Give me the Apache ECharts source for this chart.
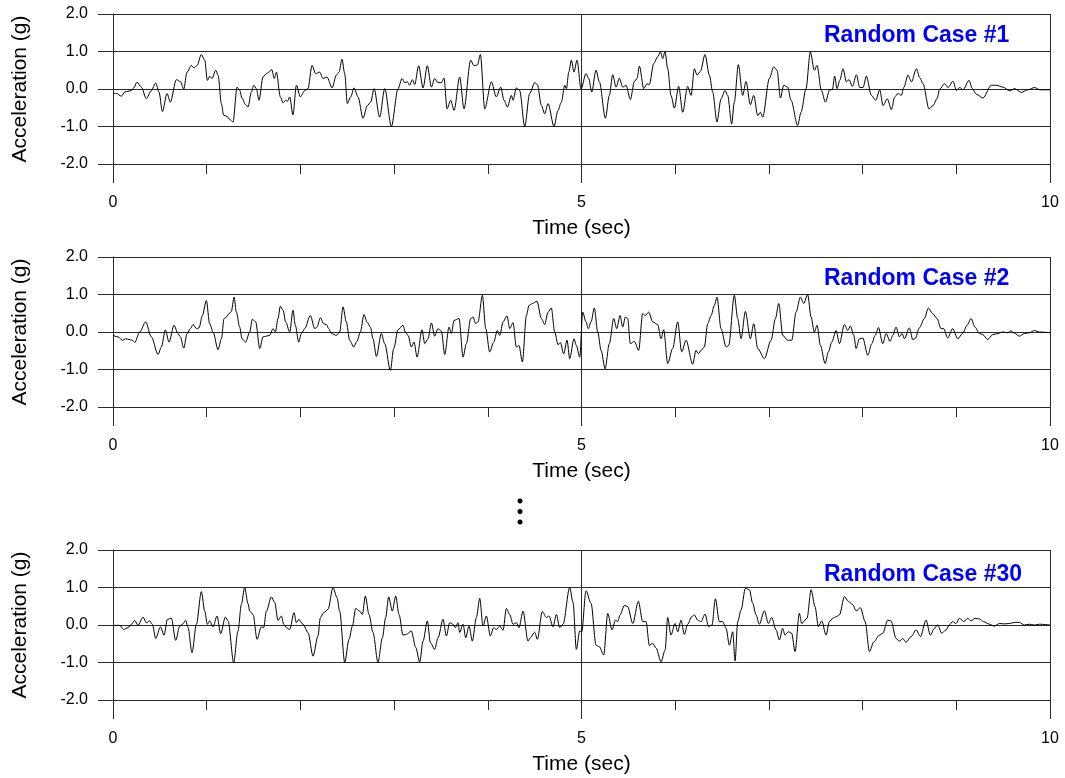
<!DOCTYPE html>
<html>
<head>
<meta charset="utf-8">
<title>Random Case acceleration histories</title>
<script src="https://cdn.jsdelivr.net/npm/echarts@6/dist/echarts.min.js"></script>
<style>
  html, body { margin: 0; padding: 0; background: #fff; }
  #chart { width: 1065px; height: 778px; }
</style>
</head>
<body>
<div id="chart"></div>
<script>
// Time (sec) and acceleration (g) samples for each random case
const case1Time = [
  0.000,0.036,0.089,0.125,0.160,0.196,0.221,0.256,0.303,0.356,0.409,0.456,0.491,0.527,0.577,0.612,
  0.676,0.719,0.755,0.790,0.836,0.865,0.897,0.943,0.979,1.007,1.032,1.057,1.096,1.121,1.157,1.181,
  1.217,1.245,1.281,1.324,1.352,1.377,1.416,1.441,1.477,1.502,1.530,1.558,1.601,1.637,1.665,1.694,
  1.722,1.744,1.786,1.815,1.843,1.861,1.886,1.921,1.957,2.000,2.046,2.081,2.124,2.163,2.206,2.241,
  2.284,2.338,2.384,2.412,2.444,2.473,2.501,2.537,2.572,2.615,2.668,2.715,2.750,2.786,2.846,2.900,
  2.971,3.042,3.085,3.113,3.142,3.166,3.195,3.220,3.262,3.309,3.355,3.398,3.433,3.469,3.504,3.533,
  3.565,3.604,3.640,3.700,3.746,3.817,3.853,3.889,3.921,3.967,4.038,4.091,4.138,4.173,4.209,4.252,
  4.269,4.305,4.340,4.394,4.447,4.501,4.529,4.572,4.607,4.643,4.707,4.749,4.785,4.821,4.839,4.864,
  4.892,4.920,4.952,4.995,5.048,5.077,5.109,5.155,5.191,5.255,5.297,5.333,5.369,5.404,5.440,5.475,
  5.522,5.564,5.593,5.618,5.664,5.699,5.724,5.771,5.813,5.842,5.867,5.891,5.920,5.955,5.991,6.037,
  6.080,6.133,6.169,6.205,6.233,6.269,6.318,6.365,6.400,6.446,6.489,6.532,6.560,6.603,6.631,6.674,
  6.720,6.756,6.802,6.838,6.881,6.909,6.934,7.005,7.051,7.087,7.123,7.158,7.201,7.236,7.307,7.343,
  7.396,7.442,7.485,7.514,7.560,7.603,7.649,7.677,7.702,7.727,7.756,7.791,7.827,7.855,7.891,7.934,
  7.969,8.005,8.040,8.094,8.140,8.183,8.218,8.264,8.307,8.343,8.378,8.414,8.439,8.485,8.521,8.574,
  8.610,8.645,8.709,8.752,8.794,8.823,8.876,8.912,8.965,9.001,9.036,9.072,9.136,9.171,9.214,9.285,
  9.374,9.428,9.499,9.570,9.623,9.694,9.765,9.836,9.890,10.000
];
const case1Accel = [
  -0.11,-0.12,-0.19,-0.08,-0.06,-0.04,0.03,0.18,0.05,-0.26,-0.04,0.16,-0.08,-0.60,-0.12,-0.35,
  0.25,0.20,0.00,0.45,0.63,0.56,0.63,0.92,0.77,0.23,0.34,0.28,0.50,0.37,-0.39,-0.70,
  -0.73,-0.81,-0.88,0.05,-0.03,-0.25,-0.42,-0.48,-0.08,0.10,0.01,-0.30,0.32,0.41,0.45,0.52,
  0.28,0.45,-0.21,-0.37,-0.30,-0.33,-0.21,-0.69,0.10,-0.21,-0.04,0.01,0.63,0.41,0.45,0.28,
  0.32,0.03,0.37,0.45,0.79,0.41,-0.39,-0.21,0.03,-0.21,-0.78,-0.44,-0.35,0.01,-0.75,0.01,
  -1.00,0.01,0.28,0.17,0.19,0.10,0.25,0.12,0.62,0.03,0.62,0.05,0.28,0.17,0.17,0.29,
  -0.53,-0.30,-0.57,0.32,-0.53,0.77,0.62,0.64,0.92,-0.53,0.19,-0.21,0.05,-0.30,-0.48,-0.17,
  -0.30,0.03,-0.04,-1.00,-0.12,0.17,0.12,-0.44,-0.66,-0.39,-1.00,-0.57,-0.35,0.10,0.01,0.45,
  0.77,0.45,0.77,0.00,0.41,0.28,-0.08,0.50,0.19,-0.78,-0.17,0.38,0.05,0.29,0.05,0.10,
  -0.28,0.20,0.28,0.61,0.01,0.14,0.12,0.68,0.86,0.99,0.81,1.00,0.54,-0.17,-0.51,0.07,
  -0.62,0.07,-0.17,0.54,0.37,0.47,0.92,0.37,-0.08,-0.88,-0.26,-0.04,-0.17,-0.93,-0.35,0.65,
  -0.17,0.20,-0.42,-0.17,-0.71,-0.62,-0.75,0.28,0.59,0.50,-0.24,0.10,0.05,-0.30,-0.97,-0.62,
  0.01,0.99,0.50,0.63,-0.04,-0.35,-0.02,-0.02,0.34,0.01,0.23,0.54,0.19,0.25,0.07,0.38,
  0.04,0.04,0.34,-0.17,-0.30,-0.02,-0.44,-0.26,-0.55,-0.21,-0.12,-0.17,0.04,0.37,0.19,0.54,
  0.30,0.14,-0.53,-0.44,-0.26,0.00,0.14,0.04,0.21,-0.04,0.04,-0.02,0.23,0.01,-0.14,-0.24,
  0.10,0.10,0.05,-0.05,0.01,-0.09,-0.02,0.04,-0.02,-0.02
];

const case2Time = [
  0.000,0.054,0.100,0.136,0.171,0.207,0.232,0.285,0.349,0.409,0.481,0.516,0.559,0.598,0.651,0.694,
  0.719,0.755,0.790,0.826,0.854,0.890,0.918,0.954,0.996,1.032,1.068,1.121,1.157,1.185,1.210,1.238,
  1.263,1.292,1.317,1.352,1.377,1.416,1.459,1.487,1.523,1.566,1.601,1.637,1.672,1.708,1.733,1.761,
  1.786,1.815,1.843,1.886,1.921,1.946,1.982,2.010,2.046,2.106,2.153,2.177,2.213,2.249,2.277,2.302,
  2.330,2.384,2.419,2.455,2.490,2.526,2.569,2.604,2.640,2.679,2.711,2.747,2.775,2.811,2.864,2.900,
  2.960,2.996,3.042,3.095,3.120,3.149,3.184,3.213,3.245,3.298,3.327,3.362,3.398,3.433,3.469,3.505,
  3.540,3.586,3.611,3.640,3.693,3.736,3.771,3.818,3.842,3.871,3.896,3.942,3.978,4.020,4.063,4.102,
  4.127,4.163,4.205,4.234,4.269,4.305,4.333,4.369,4.412,4.440,4.476,4.525,4.572,4.607,4.643,4.678,
  4.714,4.750,4.774,4.810,4.846,4.874,4.920,4.945,4.981,5.013,5.048,5.073,5.102,5.137,5.173,5.209,
  5.252,5.297,5.344,5.376,5.411,5.440,5.468,5.493,5.521,5.564,5.610,5.653,5.681,5.717,5.760,5.813,
  5.849,5.877,5.920,5.973,6.027,6.069,6.116,6.187,6.222,6.247,6.276,6.311,6.347,6.383,6.418,6.446,
  6.489,6.543,6.571,6.631,6.667,6.703,6.749,6.802,6.838,6.881,6.952,7.023,7.070,7.105,7.148,7.201,
  7.244,7.290,7.336,7.372,7.414,7.450,7.485,7.514,7.550,7.600,7.635,7.671,7.717,7.753,7.806,7.842,
  7.870,7.906,7.931,7.966,8.002,8.055,8.098,8.134,8.169,8.215,8.251,8.293,8.322,8.357,8.393,8.421,
  8.446,8.499,8.535,8.560,8.606,8.659,8.702,8.748,8.794,8.837,8.865,8.908,8.961,9.015,9.068,9.115,
  9.157,9.200,9.246,9.282,9.335,9.389,9.442,9.495,9.549,9.584,9.620,9.673,9.727,9.780,9.833,9.887,
  10.000
];
const case2Accel = [
  -0.09,-0.13,-0.22,-0.18,-0.20,-0.22,-0.28,0.00,0.27,-0.13,-0.60,-0.40,0.06,-0.27,0.18,-0.04,
  -0.13,-0.43,-0.04,0.09,0.20,0.09,0.11,0.44,0.84,0.22,0.00,-0.47,-0.18,0.36,0.40,0.49,
  0.55,0.93,0.53,0.13,-0.18,-0.27,0.00,0.34,0.27,-0.44,-0.13,-0.11,-0.09,0.09,0.00,0.36,
  0.69,0.58,0.27,0.00,0.58,0.18,-0.27,-0.04,0.09,0.44,0.09,0.13,0.38,0.22,0.20,0.09,
  -0.04,-0.09,0.00,0.67,0.27,-0.22,-0.40,-0.25,0.00,0.47,0.27,0.13,-0.18,-0.65,-0.04,-0.31,
  -1.02,-0.44,0.06,0.18,0.00,-0.09,-0.40,-0.27,-0.67,0.06,-0.31,-0.18,0.24,-0.11,0.09,0.02,
  -0.60,0.13,-0.04,0.31,0.36,-0.67,-0.31,0.36,0.40,0.22,0.27,0.98,0.09,-0.53,-0.27,0.04,
  -0.09,0.27,0.43,0.09,0.25,-0.40,-0.36,-0.80,0.44,0.71,0.76,0.82,0.36,0.20,0.53,0.64,
  0.00,-0.34,-0.28,-0.58,-0.22,-0.71,-0.18,-0.36,-0.67,0.53,0.27,0.09,0.27,0.64,0.00,-0.49,
  -0.98,-0.31,0.36,0.09,0.44,0.13,0.40,0.36,-0.31,-0.25,-0.49,0.49,0.44,0.53,0.27,0.20,
  -0.18,0.06,-0.84,-0.44,0.27,-0.53,-0.22,-0.86,-0.49,-0.58,-0.49,-0.40,0.22,0.44,0.71,0.93,
  0.09,-0.40,-0.36,0.98,0.36,-0.18,0.55,-0.18,0.22,-0.44,-0.71,-0.22,0.36,0.76,-0.09,-0.22,
  -0.22,0.53,0.93,0.76,1.00,0.40,0.00,0.18,-0.36,-0.84,-0.53,-0.27,0.04,-0.31,0.20,0.04,
  0.16,-0.09,-0.44,-0.18,-0.16,-0.62,-0.31,-0.09,0.12,-0.31,-0.04,-0.25,-0.09,0.13,-0.13,-0.04,
  -0.18,0.11,-0.20,-0.18,0.11,0.36,0.64,0.49,0.36,0.09,0.09,-0.16,0.09,-0.18,-0.04,0.18,
  0.36,0.13,-0.04,-0.07,-0.20,-0.07,-0.04,0.00,-0.02,0.03,-0.03,-0.11,-0.04,-0.02,0.04,0.00,
  -0.02
];

const case30Time = [
  0.000,0.072,0.114,0.160,0.196,0.232,0.267,0.321,0.356,0.392,0.420,0.456,0.506,0.545,0.580,0.623,
  0.669,0.712,0.740,0.776,0.801,0.843,0.890,0.943,0.979,1.007,1.032,1.068,1.110,1.149,1.199,1.228,
  1.288,1.334,1.370,1.405,1.441,1.459,1.495,1.537,1.583,1.608,1.637,1.690,1.726,1.761,1.797,1.822,
  1.850,1.886,1.932,1.957,1.982,2.028,2.081,2.135,2.188,2.213,2.249,2.295,2.348,2.391,2.419,2.473,
  2.519,2.555,2.590,2.633,2.661,2.693,2.732,2.775,2.828,2.875,2.910,2.942,2.981,3.017,3.053,3.095,
  3.131,3.184,3.231,3.273,3.309,3.355,3.387,3.433,3.469,3.522,3.558,3.593,3.629,3.654,3.682,3.700,
  3.736,3.764,3.800,3.835,3.878,3.914,3.949,3.985,4.027,4.063,4.091,4.127,4.163,4.198,4.234,4.269,
  4.305,4.333,4.376,4.429,4.454,4.500,4.529,4.582,4.625,4.653,4.696,4.732,4.767,4.803,4.874,4.910,
  4.945,4.981,5.002,5.048,5.102,5.155,5.191,5.237,5.280,5.326,5.362,5.387,5.411,5.458,5.493,5.547,
  5.607,5.653,5.689,5.724,5.760,5.795,5.849,5.892,5.920,5.955,5.998,6.027,6.062,6.098,6.133,6.176,
  6.204,6.240,6.276,6.318,6.357,6.393,6.429,6.471,6.507,6.543,6.578,6.614,6.639,6.667,6.703,6.749,
  6.792,6.827,6.863,6.898,6.952,6.994,7.030,7.076,7.112,7.147,7.172,7.208,7.243,7.279,7.325,7.350,
  7.407,7.450,7.492,7.528,7.564,7.610,7.646,7.681,7.717,7.753,7.806,7.849,7.895,7.931,7.977,8.027,
  8.073,8.119,8.180,8.215,8.268,8.304,8.357,8.393,8.428,8.464,8.517,8.571,8.617,8.677,8.723,8.766,
  8.801,8.844,8.890,8.926,8.961,8.997,9.033,9.079,9.122,9.157,9.200,9.246,9.292,9.353,9.406,9.460,
  9.513,9.567,9.620,9.673,9.727,9.780,9.833,9.887,10.000
];
const case30Accel = [
  -0.01,-0.01,-0.12,-0.07,0.02,0.12,-0.01,0.21,0.06,0.11,0.02,-0.36,-0.05,-0.27,0.15,0.18,
  -0.41,-0.03,0.02,0.12,-0.07,-0.74,0.02,0.89,0.37,0.02,0.11,-0.05,0.24,-0.23,0.21,0.11,
  -1.00,-0.16,0.55,1.00,0.57,0.37,0.28,-0.38,-0.05,-0.07,0.37,0.75,0.60,0.12,0.24,0.02,
  -0.07,-0.12,0.33,0.06,0.15,0.02,-0.20,-0.83,-0.29,0.20,0.33,0.42,1.00,0.73,0.37,-1.00,
  -0.38,-0.03,0.44,0.37,0.28,0.77,0.28,-0.20,-1.00,-0.34,0.20,0.75,0.37,0.77,0.28,-0.27,
  -0.25,-0.16,-0.60,-0.99,-0.43,0.11,-0.47,-0.65,-0.34,0.15,-0.29,0.06,0.02,-0.07,0.06,-0.20,
  0.02,-0.34,-0.03,-0.43,0.20,0.71,-0.03,0.24,-0.29,-0.07,-0.12,-0.03,-0.14,0.44,0.28,0.02,
  0.06,-0.07,0.37,-0.43,-0.34,-0.19,-0.38,0.36,0.20,0.24,-0.05,0.28,-0.07,0.02,1.00,0.60,
  -0.65,-0.16,-0.18,0.91,0.58,-0.54,-0.58,-0.80,0.31,-0.13,0.13,0.09,0.27,0.52,0.49,0.04,
  0.63,0.09,0.09,-0.54,-0.49,-0.61,-0.98,-0.67,0.20,-0.27,0.04,-0.18,0.13,-0.25,0.02,0.22,
  0.27,0.13,0.09,0.29,-0.04,0.00,0.70,0.09,0.09,-0.09,-0.54,-0.18,-0.96,0.09,0.40,0.98,
  0.94,0.58,0.27,0.02,0.38,0.04,0.20,-0.13,-0.40,-0.09,-0.27,-0.18,-0.22,-0.71,0.31,0.04,
  0.18,0.94,0.49,-0.04,0.11,-0.27,0.09,0.18,0.22,0.27,0.76,0.63,0.54,0.38,0.46,0.09,
  -0.71,-0.45,-0.27,-0.22,0.13,0.11,-0.36,-0.43,-0.36,-0.46,-0.31,-0.13,-0.31,0.13,-0.27,-0.09,
  0.00,-0.22,-0.13,0.00,0.09,0.04,0.18,0.09,0.18,0.11,0.18,0.16,0.09,0.02,-0.03,0.04,
  0.03,0.04,0.07,0.07,0.00,0.02,0.00,0.02,0.00
];

const caseLabels = ['Random Case #1', 'Random Case #2', 'Random Case #30'];
const yTickLabels = ['-2.0', '-1.0', '0.0', '1.0', '2.0'];

const FONT = 'Arial, "Liberation Sans", sans-serif';
const LINE = '#2a2a2a';

const panels = [
  { time: case1Time, accel: case1Accel, top: 14, titleTop: 24 },
  { time: case2Time, accel: case2Accel, top: 257, titleTop: 267 },
  { time: case30Time, accel: case30Accel, top: 550, titleTop: 563 }
];

function pairs(t, v) {
  return t.map((x, i) => [x, v[i]]);
}

const chart = echarts.init(document.getElementById('chart'), null, { renderer: 'canvas' });

const option = {
  animation: false,
  backgroundColor: '#fff',
  textStyle: { fontFamily: FONT },
  title: panels.map((p, i) => ({
    text: caseLabels[i],
    left: 824,
    top: p.titleTop,
    padding: 0,
    textStyle: { color: '#0000ff', fontSize: 23, fontWeight: 'bold', fontFamily: FONT }
  })),
  grid: panels.map(p => ({ left: 113, top: p.top, width: 937, height: 150, containLabel: false })),
  xAxis: panels.map((p, i) => ({
    type: 'value',
    gridIndex: i,
    min: 0,
    max: 10,
    interval: 5,
    axisLine: { show: true, onZero: false, lineStyle: { color: LINE, width: 1 } },
    axisTick: { show: true, length: 19, lineStyle: { color: LINE, width: 1 } },
    minorTick: { show: true, splitNumber: 5, length: 10, lineStyle: { color: LINE, width: 1 } },
    splitLine: { show: true, lineStyle: { color: LINE, width: 1 } },
    axisLabel: { margin: 31, fontSize: 16, color: '#000', fontFamily: FONT },
    name: 'Time (sec)',
    nameLocation: 'middle',
    nameGap: 54,
    nameTextStyle: { fontSize: 21, color: '#000', fontFamily: FONT }
  })),
  yAxis: panels.map((p, i) => ({
    type: 'value',
    gridIndex: i,
    min: -2,
    max: 2,
    interval: 1,
    axisLine: { show: true, lineStyle: { color: LINE, width: 1 } },
    axisTick: { show: true, length: 15, lineStyle: { color: LINE, width: 1 } },
    splitLine: { show: true, lineStyle: { color: LINE, width: 1 } },
    axisLabel: {
      margin: 25,
      fontSize: 16,
      color: '#000',
      fontFamily: FONT,
      formatter: v => yTickLabels[Math.round(v) + 2]
    },
    name: 'Acceleration (g)',
    nameLocation: 'middle',
    nameGap: 82,
    nameTextStyle: { fontSize: 21, color: '#000', fontFamily: FONT }
  })),
  series: panels.map((p, i) => ({
    type: 'line',
    xAxisIndex: i,
    yAxisIndex: i,
    data: pairs(p.time, p.accel),
    showSymbol: false,
    smooth: 0.3,
    smoothMonotone: 'x',
    lineStyle: { color: '#000', width: 1 },
    z: 3
  })),
  graphic: [
    { type: 'circle', shape: { cx: 520, cy: 501, r: 2.5 }, style: { fill: '#000' } },
    { type: 'circle', shape: { cx: 520, cy: 511.5, r: 2.5 }, style: { fill: '#000' } },
    { type: 'circle', shape: { cx: 520, cy: 522, r: 2.5 }, style: { fill: '#000' } }
  ]
};

chart.setOption(option);
</script>
</body>
</html>
